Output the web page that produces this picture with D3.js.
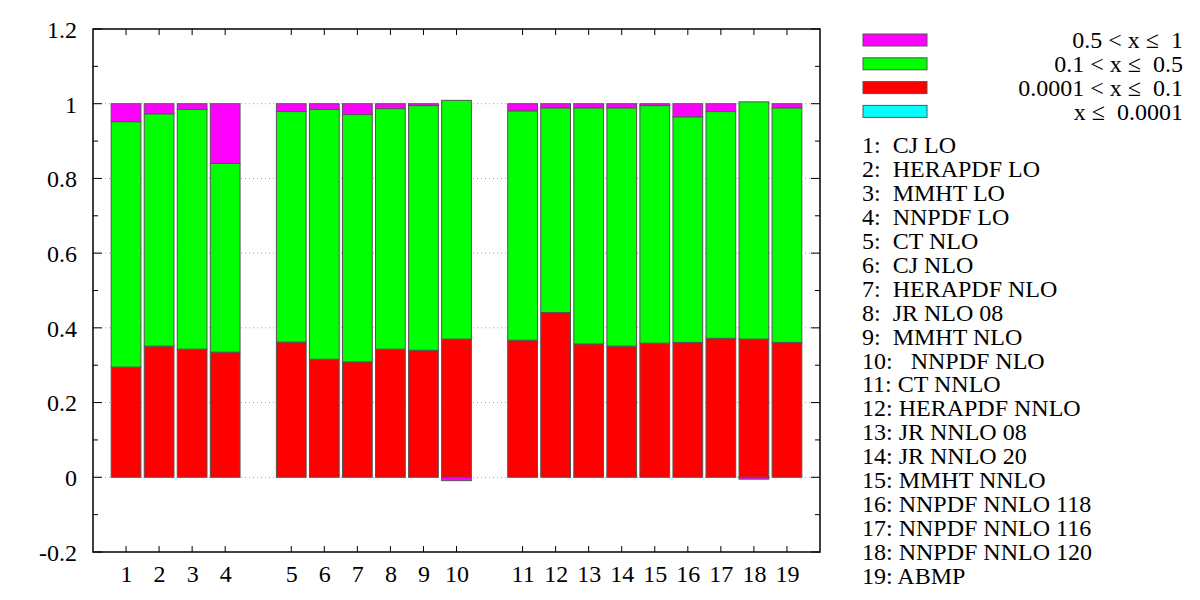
<!DOCTYPE html>
<html>
<head>
<meta charset="utf-8">
<script src="https://cdn.jsdelivr.net/npm/d3@7"></script>
<style>
body { margin: 0; background: #fff; }
</style>
</head>
<body>
<div id="chart"></div>
<script>
// pdf sets, numbered as on the x axis
var names = ["CJ LO","HERAPDF LO","MMHT LO","NNPDF LO",
  "CT NLO","CJ NLO","HERAPDF NLO","JR NLO 08","MMHT NLO"," NNPDF NLO",
  "CT NNLO","HERAPDF NNLO","JR NNLO 08","JR NNLO 20","MMHT NNLO","NNPDF NNLO 118","NNPDF NNLO 116","NNPDF NNLO 120","ABMP"];
var group = [0,0,0,0, 1,1,1,1,1,1, 2,2,2,2,2,2,2,2,2];

// x ranges (stacking order bottom -> top)
var cyan    = [0,0,0,0, 0,0,0,0,0,0, 0,0,0,0,0,0,0,0,0];
var red     = [0.295,0.351,0.343,0.335, 0.362,0.316,0.309,0.343,0.340,0.370,
               0.367,0.441,0.357,0.351,0.359,0.361,0.372,0.370,0.361];
var green   = [0.657,0.622,0.642,0.505, 0.617,0.669,0.662,0.644,0.655,0.639,
               0.614,0.548,0.632,0.638,0.636,0.604,0.607,0.635,0.628];
var magenta = [0.048,0.027,0.015,0.160, 0.021,0.015,0.029,0.013,0.005,-0.009,
               0.019,0.011,0.011,0.011,0.005,0.035,0.021,-0.005,0.011];

var seriesKeys = ["cyan","red","green","magenta"];
var seriesCol = {cyan:"#00ffff", red:"#ff0000", green:"#00ff00", magenta:"#ff00ff"};
var seriesTitle = {cyan:"x \u2264  0.0001", red:"0.0001 < x \u2264  0.1", green:"0.1 < x \u2264  0.5", magenta:"0.5 < x \u2264  1"};

var yTicks = [-0.2,0,0.2,0.4,0.6,0.8,1,1.2];
var yTickText = ["-0.2","0","0.2","0.4","0.6","0.8","1","1.2"];

var FONT = "'Liberation Serif'";
var FS = 24;

var rows = names.map(function(n,i){
  return {id: i+1, name: n, slot: i+1+group[i], cyan: cyan[i], red: red[i], green: green[i], magenta: magenta[i]};
});

var W = 1200, H = 600;
var svg = d3.select("#chart").append("svg").attr("width", W).attr("height", H);

var L = 93, R = 820, T = 29, B = 552;
var x = d3.scaleLinear().domain([0,22]).range([L,R]);
var y = d3.scaleLinear().domain([-0.2,1.2]).range([B,T]);

// grid
svg.append("g").selectAll("line").data(yTicks.slice(1,-1)).enter().append("line")
  .attr("x1", L).attr("x2", R).attr("y1", function(d){ return y(d); }).attr("y2", function(d){ return y(d); })
  .attr("stroke", "#a0a0a0").attr("stroke-width", 1).attr("stroke-dasharray", "1,3");

// bars
var stack = d3.stack().keys(seriesKeys).offset(d3.stackOffsetDiverging);
var layers = stack(rows);
var bw = 0.9;
svg.append("g").selectAll("g").data(layers).enter().append("g")
  .attr("fill", function(d){ return seriesCol[d.key]; })
  .selectAll("rect").data(function(d){ return d.filter(function(p){ return p[1] !== p[0]; }); }).enter().append("rect")
  .attr("x", function(d){ return x(d.data.slot - bw/2); })
  .attr("width", x(bw) - x(0))
  .attr("y", function(d){ return y(Math.max(d[0], d[1])); })
  .attr("height", function(d){ return Math.abs(y(d[0]) - y(d[1])); })
  .attr("stroke", "#555").attr("stroke-width", 1);

// frame
svg.append("rect").attr("x", L).attr("y", T).attr("width", R-L).attr("height", B-T)
  .attr("fill", "none").attr("stroke", "#000").attr("stroke-width", 1.5);

// y axis
var yAxis = d3.axisLeft(y).tickValues(yTicks).tickFormat(function(d, i){ return yTickText[i]; }).tickSize(0).tickPadding(16);
var ya = svg.append("g").attr("transform", "translate(" + L + ",0)").call(yAxis)
  .attr("font-family", FONT).attr("font-size", FS);
ya.select(".domain").remove();
ya.selectAll("text").attr("dy", "0.35em").style("font-family", FONT).attr("fill", "#000");

var minor = d3.range(-2, 13).map(function(k){ return k/10; });
var tk = svg.append("g").attr("stroke", "#000").attr("stroke-width", 1);
minor.forEach(function(v){
  var major = yTicks.some(function(t){ return Math.abs(t - v) < 1e-9; });
  var len = major ? 9 : 5;
  tk.append("line").attr("x1", L).attr("x2", L + len).attr("y1", y(v)).attr("y2", y(v));
  tk.append("line").attr("x1", R).attr("x2", R - len).attr("y1", y(v)).attr("y2", y(v));
});

// x axis
var xAxis = d3.axisBottom(x).tickValues(rows.map(function(d){ return d.slot; }))
  .tickFormat(function(d){ return rows.filter(function(r){ return r.slot === d; })[0].id; })
  .tickSize(0).tickPadding(13);
var xa = svg.append("g").attr("transform", "translate(0," + B + ")").call(xAxis)
  .attr("font-family", FONT).attr("font-size", FS);
xa.select(".domain").remove();
xa.selectAll("text").style("font-family", FONT).attr("fill", "#000");
rows.forEach(function(r){
  tk.append("line").attr("x1", x(r.slot)).attr("x2", x(r.slot)).attr("y1", B).attr("y2", B - 6);
  tk.append("line").attr("x1", x(r.slot)).attr("x2", x(r.slot)).attr("y1", T).attr("y2", T + 6);
});

// legend: ranges
var legKeys = seriesKeys.slice().reverse();
var lg = svg.append("g").attr("font-family", FONT).attr("font-size", FS);
legKeys.forEach(function(k, i){
  var cy = 40 + i*23.8;
  lg.append("rect").attr("x", 863).attr("y", cy - 6).attr("width", 64).attr("height", 12)
    .attr("fill", seriesCol[k]).attr("stroke", "#555").attr("stroke-width", 1);
  lg.append("text").attr("x", 1183).attr("y", cy).attr("dy", "0.35em")
    .attr("text-anchor", "end").style("font-family", FONT).style("white-space", "pre")
    .text(seriesTitle[k]);
});

// legend: pdf sets
rows.forEach(function(r, i){
  var sep = r.id < 11 ? ":  " : ": ";
  lg.append("text").attr("x", 862).attr("y", 145 + i*23.9).attr("dy", "0.35em")
    .style("font-family", FONT).style("white-space", "pre")
    .text(r.id + sep + r.name);
});
</script>
</body>
</html>
